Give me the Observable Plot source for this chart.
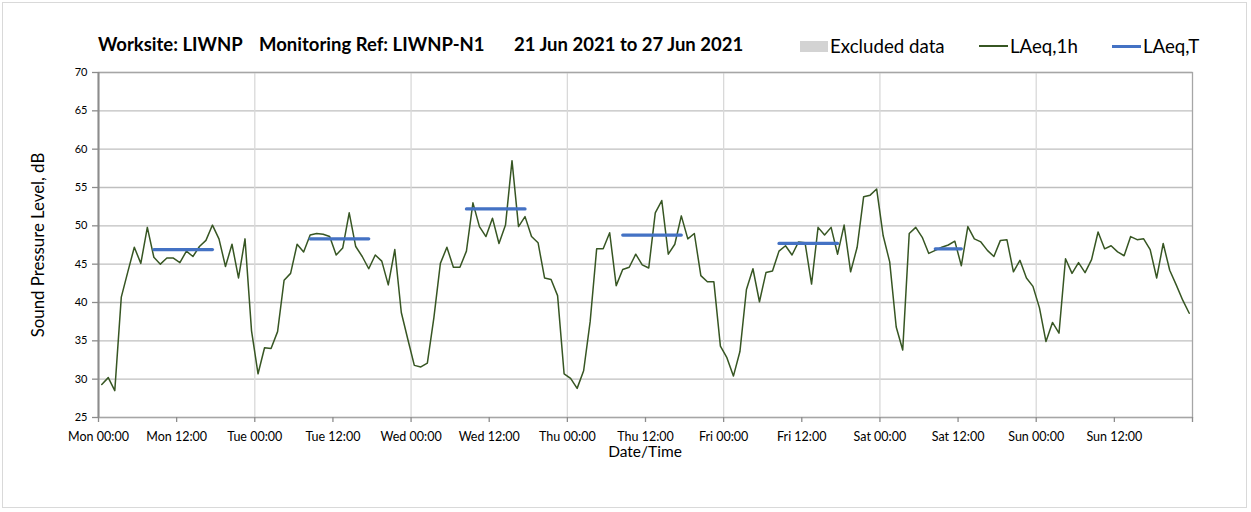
<!DOCTYPE html>
<html><head><meta charset="utf-8">
<script src="https://cdn.jsdelivr.net/npm/d3@7"></script>
<script src="https://cdn.jsdelivr.net/npm/@observablehq/plot@0.6"></script>
<style>
body{margin:0;background:#fff;}
#wrap{position:relative;width:1251px;height:512px;font-family:Lato,"Open Sans",sans-serif;color:#000;overflow:hidden;}
#wrap svg{position:absolute;left:0;top:0;}
.abs{position:absolute;white-space:nowrap;}
#border{position:absolute;left:2px;top:2px;width:1245px;height:506px;border:1px solid #d9d9d9;box-sizing:border-box;}
</style></head><body><div id="wrap"><div id="border"></div></div>
<script>
// ---- data ----
const startUTC = Date.UTC(2021, 5, 21, 0, 0, 0);   // Mon 21 Jun 2021 00:00
const laeq1h = [
  // Mon
  29.3, 30.2, 28.5, 40.7, 44.0, 47.2, 45.1, 49.8, 45.9, 45.0, 45.8, 45.8, 45.2, 46.7, 46.0, 47.3, 48.1, 50.1, 48.3, 44.7, 47.6, 43.2, 48.3, 36.3,
  // Tue
  30.7, 34.1, 34.0, 36.2, 42.9, 43.8, 47.6, 46.6, 48.8, 49.0, 48.9, 48.6, 46.2, 47.1, 51.7, 47.3, 46.0, 44.4, 46.2, 45.4, 42.3, 46.9, 38.7, 35.2,
  // Wed
  31.8, 31.6, 32.1, 38.0, 45.1, 47.2, 44.6, 44.6, 46.7, 53.0, 49.9, 48.6, 51.0, 47.7, 50.1, 58.5, 49.9, 51.2, 48.6, 47.8, 43.2, 43.0, 40.9, 30.7,
  // Thu
  30.1, 28.8, 31.1, 37.5, 47.0, 47.0, 49.1, 42.2, 44.3, 44.6, 46.3, 44.9, 44.5, 51.7, 53.3, 46.3, 47.6, 51.3, 48.3, 49.0, 43.5, 42.7, 42.7, 34.3,
  // Fri
  32.8, 30.4, 33.6, 41.7, 44.4, 40.1, 43.9, 44.1, 46.7, 47.4, 46.2, 47.9, 47.8, 42.4, 49.8, 48.8, 49.8, 46.3, 50.1, 44.0, 47.2, 53.8, 54.0, 54.8,
  // Sat
  48.7, 45.3, 36.8, 33.8, 49.0, 49.8, 48.5, 46.4, 46.8, 47.2, 47.5, 48.0, 44.8, 49.9, 48.3, 47.9, 46.8, 46.0, 48.1, 48.2, 44.0, 45.5, 43.2, 42.1,
  // Sun
  39.3, 34.9, 37.4, 36.0, 45.7, 43.8, 45.2, 43.9, 45.6, 49.2, 47.0, 47.4, 46.6, 46.1, 48.6, 48.2, 48.3, 46.9, 43.2, 47.7, 44.2, 42.3, 40.3, 38.6
];
// LAeq,T periods (hours since start)
const periodStartHour = [8, 32, 56, 80, 104, 128];
const periodEndHour   = [18, 42, 66, 90, 114, 133];
const periodValue     = [46.9, 48.3, 52.2, 48.8, 47.7, 47.0];

const yTicks = [25, 30, 35, 40, 45, 50, 55, 60, 65, 70];
const xTickLabels = ["Mon 00:00","Mon 12:00","Tue 00:00","Tue 12:00","Wed 00:00","Wed 12:00","Thu 00:00",
                     "Thu 12:00","Fri 00:00","Fri 12:00","Sat 00:00","Sat 12:00","Sun 00:00","Sun 12:00"];
const titleParts = ["Worksite: LIWNP", "Monitoring Ref: LIWNP-N1", "21 Jun 2021 to 27 Jun 2021"];
const legendLabels = ["Excluded data", "LAeq,1h", "LAeq,T"];
const yLabel = "Sound Pressure Level, dB";
const xLabel = "Date/Time";

// ---- derived tables ----
const H = 3600e3;
const hourly = laeq1h.map((v, i) => ({t: new Date(startUTC + (i + 0.5) * H), v}));
const periods = periodValue.flatMap((v, k) => [
  {t: new Date(startUTC + (periodStartHour[k] + 0.5) * H), v, k},
  {t: new Date(startUTC + (periodEndHour[k] - 0.5) * H), v, k}
]);
const xTickDates = d3.range(0, 15).map(i => new Date(startUTC + i * 12 * H));
const dayDates = d3.range(1, 7).map(i => new Date(startUTC + i * 24 * H));
const fmtX = d => xTickLabels[Math.round((d - startUTC) / (12 * H))] ?? "";

const green = "#375623", blue = "#4472c4";

const chart = Plot.plot({
  width: 1251, height: 512,
  marginLeft: 98, marginRight: 59, marginTop: 72, marginBottom: 95,
  x: {type: "utc", domain: [new Date(startUTC), new Date(startUTC + 168 * H)]},
  y: {domain: [25, 70]},
  style: {fontFamily: "Lato, 'Open Sans', sans-serif", color: "#000", background: "transparent", overflow: "visible"},
  marks: [
    Plot.gridY(yTicks, {stroke: "#bfbfbf", strokeOpacity: 1, strokeWidth: 1.3}),
    Plot.gridX(dayDates, {stroke: "#d9d9d9", strokeOpacity: 1, strokeWidth: 1.3}),
    Plot.frame({stroke: "#a6a6a6", strokeWidth: 1.3}),
    Plot.ruleX([new Date(startUTC)], {stroke: "#8c8c8c", strokeWidth: 2}),
    Plot.axisY(yTicks, {tickSize: 6, stroke: "#8c8c8c", strokeWidth: 1.3, tickPadding: 5, fontSize: 11, label: null, tickFormat: d => d}),
    Plot.axisX(xTickDates, {tickSize: 5, stroke: "#8c8c8c", strokeWidth: 1.3, tickPadding: 10, fontSize: 12.5, label: null, tickFormat: fmtX}),
    Plot.line(hourly, {x: "t", y: "v", stroke: green, strokeWidth: 1.5}),
    Plot.line(periods, {x: "t", y: "v", z: "k", stroke: blue, strokeWidth: 3.2})
  ]
});
const wrap = document.getElementById("wrap");
wrap.appendChild(chart);

function addText(txt, css) {
  const d = document.createElement("div");
  d.className = "abs";
  d.textContent = txt;
  Object.assign(d.style, css);
  wrap.appendChild(d);
  return d;
}
function addBox(css) {
  const d = document.createElement("div");
  d.className = "abs";
  Object.assign(d.style, css);
  wrap.appendChild(d);
}
// title
const tCss = {top: "33px", fontSize: "18.5px", fontWeight: "bold", lineHeight: "22px"};
addText(titleParts[0], {...tCss, left: "98px"});
addText(titleParts[1], {...tCss, left: "259px"});
addText(titleParts[2], {...tCss, left: "514px"});
// legend
const lCss = {top: "35px", fontSize: "18.7px", lineHeight: "22px"};
addBox({left: "800px", top: "41px", width: "28px", height: "11px", background: "#d3d3d3"});
addText(legendLabels[0], {...lCss, left: "830px"});
addBox({left: "979px", top: "45px", width: "29px", height: "1.5px", background: green});
addText(legendLabels[1], {...lCss, left: "1010px"});
addBox({left: "1112px", top: "44.5px", width: "29px", height: "3px", background: blue});
addText(legendLabels[2], {...lCss, left: "1143px"});
// axis titles
addText(yLabel, {left: "38px", top: "245px", fontSize: "16.8px", lineHeight: "20px", transform: "translate(-50%,-50%) rotate(-90deg)"});
addText(xLabel, {left: "645px", top: "451px", fontSize: "15.5px", lineHeight: "20px", transform: "translate(-50%,-50%)"});
</script>
</body></html>
